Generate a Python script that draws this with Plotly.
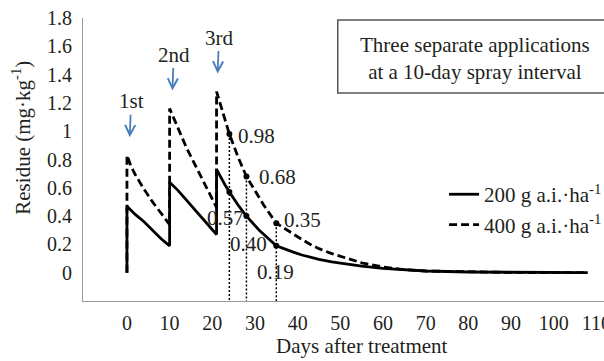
import plotly.graph_objects as go

# ---- data ----
days_200 = [0, 0, 2, 4, 6, 8, 10, 10, 12, 14, 16, 18, 21, 21, 22, 23, 24, 26, 28, 31, 35,
            37, 39, 41, 43, 45, 48, 51, 55, 60, 65, 70, 80, 90, 108]
res_200 = [0.0, 0.47, 0.41, 0.36, 0.30, 0.24, 0.19, 0.64, 0.58, 0.51, 0.44, 0.37, 0.27, 0.73,
           0.67, 0.62, 0.57, 0.48, 0.40, 0.30, 0.19, 0.165, 0.145, 0.125, 0.108, 0.094,
           0.076, 0.062, 0.046, 0.031, 0.02, 0.012, 0.005, 0.002, 0.0]

days_400 = [0, 0, 1, 2, 4, 6, 8, 10, 10, 12, 14, 16, 18, 20, 21, 21, 22, 23, 24, 26, 28, 30,
            32, 35, 37, 39, 41, 43, 45, 48, 51, 55, 60, 65, 70, 80, 90, 108]
res_400 = [0.0, 0.83, 0.75, 0.69, 0.59, 0.50, 0.42, 0.34, 1.16, 1.02, 0.88, 0.76, 0.64, 0.52,
           0.46, 1.28, 1.18, 1.08, 0.98, 0.82, 0.68, 0.58, 0.48, 0.35, 0.31, 0.27, 0.235,
           0.20, 0.17, 0.135, 0.105, 0.07, 0.04, 0.022, 0.012, 0.005, 0.002, 0.0]

sample_days = [24, 28, 35]
sample_400 = [0.98, 0.68, 0.35]
sample_200 = [0.57, 0.40, 0.19]

app_days = [0.5, 10.5, 21.1]
app_peaks = [0.83, 1.16, 1.28]
app_labels = ["1st", "2nd", "3rd"]

y_ticks = [0, 0.2, 0.4, 0.6, 0.8, 1.0, 1.2, 1.4, 1.6, 1.8]
y_ticktext = ["0", "0.2", "0.4", "0.6", "0.8", "1", "1.2", "1.4", "1.6", "1.8"]
x_ticks = [0, 10, 20, 30, 40, 50, 60, 70, 80, 90, 100, 110]

# ---- styles ----
FONT = "Liberation Serif"
TXT = "#231f20"
BLUE = "#4a7ebb"
Y_MIN, Y_MAX = -0.2, 1.8

fig = go.Figure()

fig.add_trace(go.Scatter(x=days_200, y=res_200, mode="lines",
                         name="200 g a.i.·ha<sup>-1</sup>",
                         line=dict(color="black", width=2.8)))
fig.add_trace(go.Scatter(x=days_400, y=res_400, mode="lines",
                         name="400 g a.i.·ha<sup>-1</sup>",
                         line=dict(color="black", width=2.8, dash="8px,4px")))

# dotted drop lines
dx, dy = [], []
for d, v in zip(sample_days, sample_400):
    dx += [d, d, None]
    dy += [v, Y_MIN, None]
fig.add_trace(go.Scatter(x=dx, y=dy, mode="lines", showlegend=False, hoverinfo="skip",
                         line=dict(color="black", width=1.5, dash="2px,2px")))

# sample markers
fig.add_trace(go.Scatter(x=sample_days + sample_days, y=sample_400 + sample_200,
                         mode="markers", showlegend=False,
                         marker=dict(color="black", size=6)))

# value labels
for d, v, xs, ys in zip(sample_days, sample_400, [27, 31, 26], [-2, -1, 3]):
    fig.add_annotation(x=d, y=v, text=f"{v:.2f}", showarrow=False, xshift=xs, yshift=ys,
                       font=dict(family=FONT, size=21, color=TXT))
for d, v, xs, ys in zip(sample_days, sample_200, [-4, 2, -1], [-26, -28, -26]):
    fig.add_annotation(x=d, y=v, text=f"{v:.2f}", showarrow=False, xshift=xs, yshift=ys,
                       font=dict(family=FONT, size=21, color=TXT))

# application arrows
for d, p, lab in zip(app_days, app_peaks, app_labels):
    fig.add_annotation(x=d, y=p, text=lab, showarrow=True, ax=2, ay=-54,
                       standoff=18, arrowhead=5, arrowsize=1.1, arrowwidth=1.8,
                       arrowcolor=BLUE, font=dict(family=FONT, size=21, color=TXT))

# text box
fig.add_shape(type="rect", xref="paper", yref="paper", x0=0.489, x1=1.01, y0=0.735, y1=0.993,
              line=dict(color="#555555", width=1.5), fillcolor="white", layer="above")
fig.add_annotation(xref="paper", yref="paper", x=0.752, y=0.857, xanchor="center",
                   yanchor="middle",
                   text="Three separate applications<br>at a 10-day spray interval",
                   showarrow=False, align="center",
                   font=dict(family=FONT, size=21, color=TXT))

# axis titles (placed like the reference)
fig.add_annotation(xref="paper", yref="paper", x=0, y=0.577, xshift=-61,
                   xanchor="center", yanchor="middle", textangle=-90,
                   text="Residue (mg·kg<sup>-1</sup>)", showarrow=False,
                   font=dict(family=FONT, size=21, color=TXT))
fig.add_annotation(xref="paper", yref="paper", x=0.536, y=0, yshift=-45,
                   xanchor="center", yanchor="middle",
                   text="Days after treatment", showarrow=False,
                   font=dict(family=FONT, size=21, color=TXT))

fig.update_layout(
    width=604, height=361,
    margin=dict(l=83, r=0, t=18, b=60, autoexpand=False),
    paper_bgcolor="white", plot_bgcolor="white",
    font=dict(family=FONT, size=20, color=TXT),
    showlegend=True,
    legend=dict(x=0.693, y=0.323, xanchor="left", yanchor="middle",
                bgcolor="rgba(0,0,0,0)", font=dict(family=FONT, size=21, color=TXT)),
    xaxis=dict(range=[-10.3, 111.8], tickvals=x_ticks, showgrid=False, zeroline=False,
               showline=True, linecolor="#999999", linewidth=1, ticks="",
               ticklabelstandoff=4, ticklabeloverflow="allow", automargin=False),
    yaxis=dict(range=[Y_MIN, Y_MAX], tickvals=y_ticks, ticktext=y_ticktext,
               showgrid=False, zeroline=False, showline=True, linecolor="#999999",
               linewidth=1, ticks="", ticklabelstandoff=6, automargin=False),
)

fig.write_html("out.html")
